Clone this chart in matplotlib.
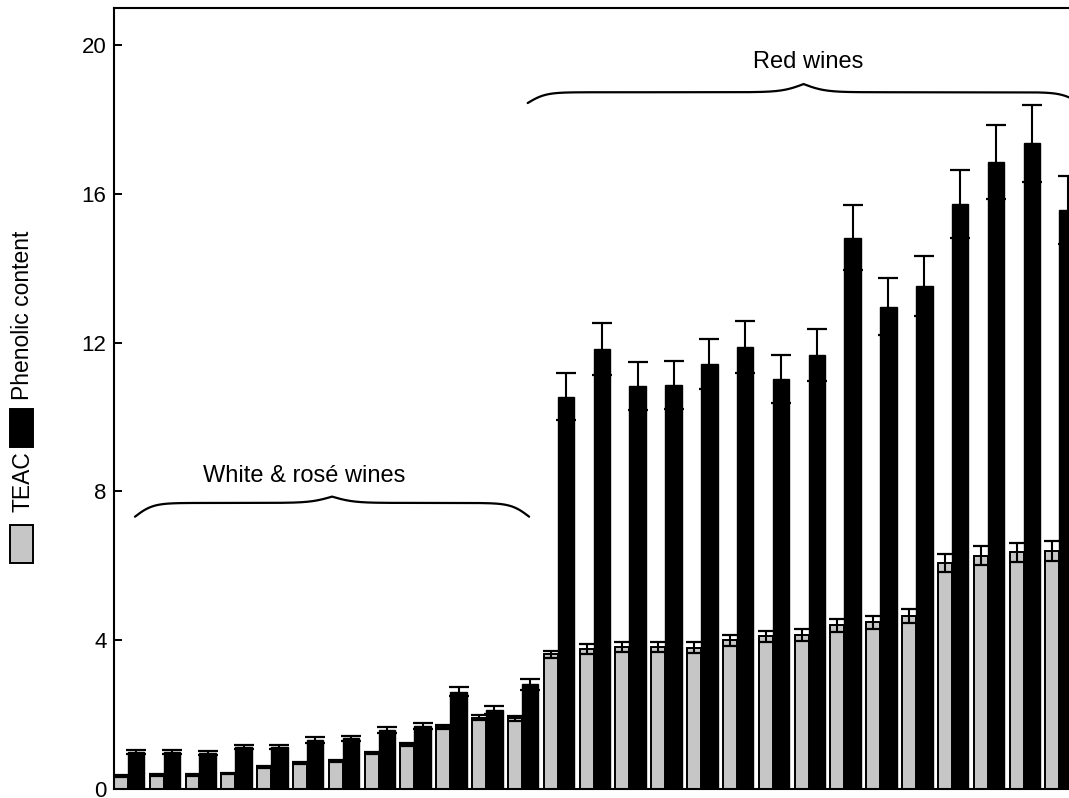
import numpy as np
import matplotlib
matplotlib.use("Agg")
import matplotlib.pyplot as plt
from matplotlib.patches import Rectangle

plt.rcParams['font.family'] = ['Liberation Sans', 'DejaVu Sans']

# Wine samples: 12 white & rosé wines followed by 15 red wines
teac = [0.35, 0.37, 0.37, 0.42, 0.60, 0.70, 0.75, 0.96, 1.20, 1.66, 1.92, 1.90,
        3.62, 3.77, 3.82, 3.82, 3.80, 4.00, 4.10, 4.13, 4.40, 4.48, 4.65,
        6.08, 6.27, 6.36, 6.40]
teac_err = [0.02, 0.02, 0.02, 0.02, 0.03, 0.03, 0.03, 0.03, 0.04, 0.05, 0.07, 0.06,
            0.10, 0.13, 0.13, 0.13, 0.14, 0.15, 0.15, 0.16, 0.18, 0.18, 0.18,
            0.25, 0.25, 0.26, 0.27]
phenolic = [1.00, 1.00, 0.97, 1.13, 1.13, 1.32, 1.36, 1.59, 1.69, 2.62, 2.12, 2.81,
            10.55, 11.83, 10.83, 10.86, 11.42, 11.89, 11.02, 11.67, 14.82, 12.97, 13.52,
            15.72, 16.85, 17.36, 15.56]
phenolic_err = [0.05, 0.05, 0.05, 0.06, 0.06, 0.07, 0.07, 0.08, 0.09, 0.13, 0.10, 0.15,
                0.62, 0.69, 0.64, 0.64, 0.67, 0.70, 0.65, 0.69, 0.88, 0.76, 0.81,
                0.92, 1.00, 1.03, 0.92]
yticks = [0, 4, 8, 12, 16, 20]

W, H = 1069, 798
fig = plt.figure(figsize=(W / 100, H / 100), dpi=100)
fig.patch.set_facecolor('white')

# axes in pixel geometry
ax_left, ax_bottom_px, ax_w, ax_h = 113.5, 789.0, 967.4, 781.2
ax = fig.add_axes([ax_left / W, (H - ax_bottom_px) / H, ax_w / W, ax_h / H])

idx = np.arange(len(teac))
gw, bw = 0.39, 0.46

ax.bar(idx + 0.01 + gw / 2, teac, width=gw, color='#c6c6c6', edgecolor='black',
       linewidth=1.4, zorder=2)
ax.bar(idx + 0.01 + gw + bw / 2, phenolic, width=bw, color='black',
       edgecolor='black', linewidth=1.0, zorder=2)
ax.errorbar(idx + 0.01 + gw / 2, teac, yerr=teac_err, fmt='none', ecolor='black',
            elinewidth=1.5, capsize=6.0, capthick=1.6, zorder=3)
ax.errorbar(idx + 0.01 + gw + bw / 2, phenolic, yerr=phenolic_err, fmt='none',
            ecolor='black', elinewidth=1.5, capsize=7.0, capthick=1.6, zorder=3)

ax.set_xlim(0, 27)
ax.set_ylim(0, 21)
ax.set_xticks([])
ax.set_yticks(yticks)
ax.tick_params(axis='y', direction='in', length=5.8, width=1.4, labelsize=16, pad=5)
for s in ax.spines.values():
    s.set_linewidth(1.5)


def brace(x0, x1, y, drop, rise, k_end=4.0, k_mid=3.3, n=400):
    """Horizontal curly brace: hooked ends below y, pointed tip above y."""
    xm = (x0 + x1) / 2
    xl = np.linspace(x0, xm, n)
    end = drop * (2 / (1 + np.exp(-k_end * (xl - x0))) - 1)
    mid = rise * 2 / (1 + np.exp(-k_mid * (xl - xm)))
    yl = y - drop + end + mid
    xs = np.concatenate([xl, 2 * xm - xl[::-1]])
    ys = np.concatenate([yl, yl[::-1]])
    ax.plot(xs, ys, color='black', lw=1.6, clip_on=False, zorder=4,
            solid_capstyle='round')


brace(0.6, 11.6, 7.69, 0.37, 0.17)
brace(11.56, 26.96, 18.73, 0.29, 0.22)
ax.text(5.32, 8.41, 'White & rosé wines', ha='center', va='center', fontsize=17)
ax.text(19.38, 19.54, 'Red wines', ha='center', va='center', fontsize=17)

# rotated legend on the left
def px_rect(x, y_top, w, h, fc):
    fig.add_artist(Rectangle((x / W, (H - y_top - h) / H), w / W, h / H,
                             transform=fig.transFigure, facecolor=fc,
                             edgecolor='black', linewidth=1.4))

px_rect(10, 525, 23, 38, '#c6c6c6')
px_rect(10, 409, 23, 38, 'black')
fig.text(23 / W, (H - 482) / H, 'TEAC', rotation=90, ha='center', va='center',
         fontsize=16.5)
fig.text(23 / W, (H - 315) / H, 'Phenolic content', rotation=90, ha='center',
         va='center', fontsize=16.5)

fig.savefig('out.png', dpi=100, facecolor='white')
